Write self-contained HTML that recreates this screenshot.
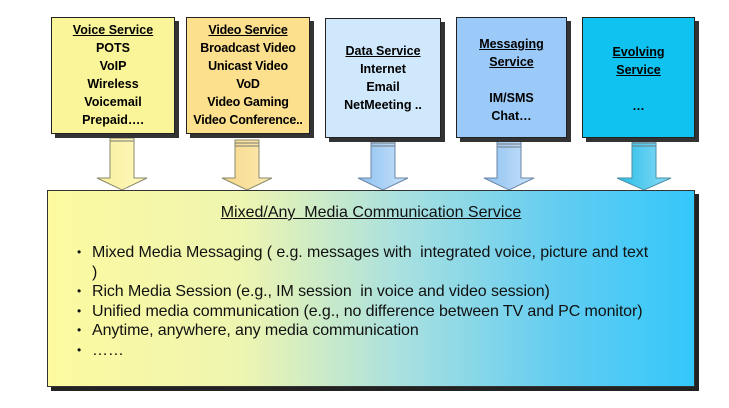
<!DOCTYPE html>
<html><head><style>
body{margin:0;width:729px;height:408px;background:#fff;position:relative;overflow:hidden;font-family:"Liberation Sans",Arial,sans-serif}
.b{position:absolute;border:1px solid #222;box-shadow:4px 4px 0 #333;text-align:center;font-weight:bold;font-size:12.5px;line-height:18px;color:#000;box-sizing:border-box}
.u{text-decoration:underline}
.big{position:absolute;left:47px;top:190px;width:648px;height:197px;border:1px solid #333;box-shadow:4px 4px 0 #222;background:linear-gradient(90deg,#fdfaa0 0%,#eef5b0 30%,#a8e0e0 55%,#60ccf2 80%,#34c8fa 100%);box-sizing:border-box;font-size:16px;letter-spacing:-0.1px;color:#111}
.big .t{position:absolute;top:13px;left:0;right:0;text-align:center;text-decoration:underline;letter-spacing:0}
.big ul{position:absolute;left:44px;top:52px;margin:0;padding:0;list-style:none;line-height:19.5px;white-space:nowrap}
.big li{position:relative}
.big li:before{content:"•";position:absolute;left:-15px;font-size:12px}
</style></head><body>
<svg width="729" height="408" style="position:absolute;left:0;top:0">
<defs>
<linearGradient id="y" x1="0" x2="1"><stop offset="0" stop-color="#f8ef9a"/><stop offset="1" stop-color="#fff8c0"/></linearGradient>
<linearGradient id="o" x1="0" x2="1"><stop offset="0" stop-color="#f6d98a"/><stop offset="1" stop-color="#fde9b0"/></linearGradient>
<linearGradient id="l" x1="0" x2="1"><stop offset="0" stop-color="#8ec1f0"/><stop offset="1" stop-color="#c8e2fb"/></linearGradient>
<linearGradient id="c" x1="0" x2="1"><stop offset="0" stop-color="#28bde8"/><stop offset="1" stop-color="#8adcf8"/></linearGradient>
</defs>
<g stroke="#8a8a6a" stroke-width="1">
<path d="M110 135h24v43h13l-25 12-25-12h13z" fill="url(#y)"/>
<path d="M235 140h24v38h13l-25 12-25-12h13z" fill="url(#o)"/>
<path d="M371 140h24v38h13l-25 12-25-12h13z" fill="url(#l)" stroke="#6a86a6"/>
<path d="M497 140h24v38h13l-25 12-25-12h13z" fill="url(#l)" stroke="#6a86a6"/>
<path d="M632 140h24v38h15l-27 12-27-12h15z" fill="url(#c)" stroke="#4a90a6"/>
</g>
<g stroke="#777" stroke-width="1">
<path d="M110 138h24M110 141h24M235 143h24M235 146h24M371 143h24M371 146h24M497 144h24M497 147h24M632 143h24M632 146h24"/>
</g>
</svg>
<div class="b" style="left:51px;top:17px;width:124px;height:117px;background:#fbf59a;padding-top:3px"><span class="u">Voice Service</span><br>POTS<br>VoIP<br>Wireless<br>Voicemail<br>Prepaid….</div>
<div class="b" style="left:186px;top:17px;width:124px;height:117px;background:#fde08e;padding-top:3px;white-space:nowrap;letter-spacing:-0.2px"><span class="u">Video Service</span><br>Broadcast Video<br>Unicast Video<br>VoD<br>Video Gaming<br>Video Conference..</div>
<div class="b" style="left:325px;top:18px;width:116px;height:120px;background:#cfe8fc;padding-top:23px"><span class="u">Data Service</span><br>Internet<br>Email<br>NetMeeting ..</div>
<div class="b" style="left:456px;top:17px;width:111px;height:121px;background:#9ccaf8;padding-top:17px"><span class="u">Messaging<br>Service</span><br><br>IM/SMS<br>Chat…</div>
<div class="b" style="left:582px;top:17px;width:113px;height:121px;background:#10c2f0;padding-top:25px"><span class="u">Evolving<br>Service</span><br><br>…</div>
<div class="big"><div class="t">Mixed/Any&nbsp; Media Communication Service</div>
<ul>
<li>Mixed Media Messaging ( e.g. messages with&nbsp; integrated voice, picture and text<br>)</li>
<li>Rich Media Session (e.g., IM session&nbsp; in voice and video session)</li>
<li>Unified media communication (e.g., no difference between TV and PC monitor)</li>
<li>Anytime, anywhere, any media communication</li>
<li>……</li>
</ul></div>
</body></html>
